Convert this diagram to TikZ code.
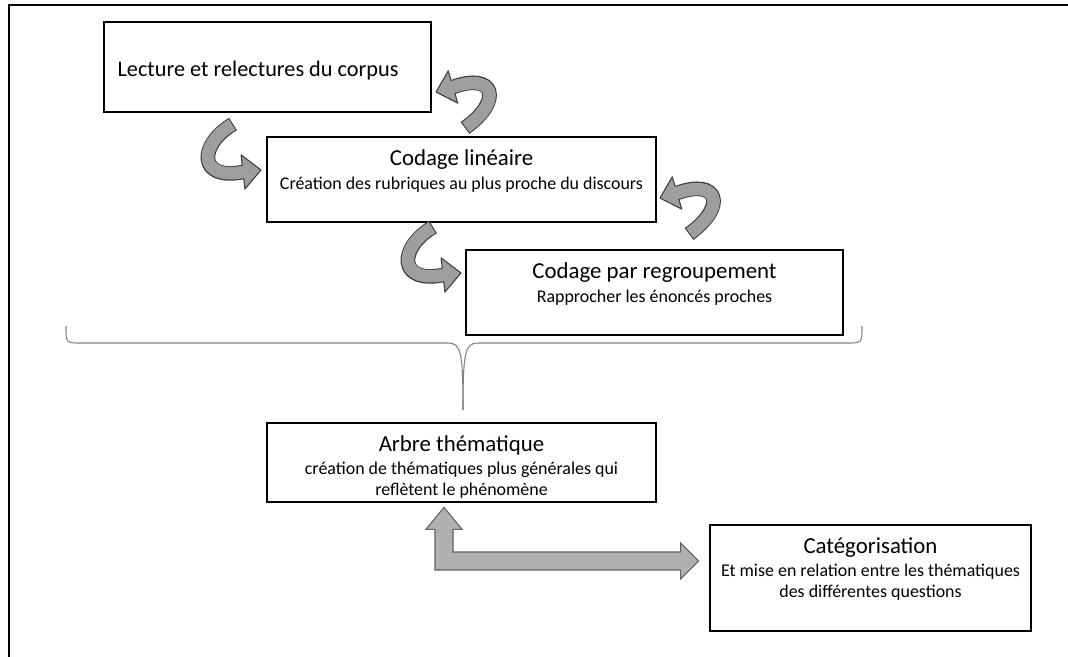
\documentclass[tikz,border=0pt]{standalone}
\usepackage{fontspec}
\setmainfont{Carlito}
\usetikzlibrary{positioning,calc}

\definecolor{ribbonfill}{RGB}{158,158,158}
\definecolor{ribbonedge}{RGB}{60,60,60}
\definecolor{arrowfill}{RGB}{176,176,176}
\definecolor{bracegray}{RGB}{130,130,130}

\newcommand{\titlefont}{\fontsize{19.5}{20}\selectfont}
\newcommand{\subfont}{\fontsize{15.3}{18.3}\selectfont}

% grey u-turn arrow: start, two controls, end of band, tip
\newcommand{\cyclearrow}[5]{%
  \draw[line width=12.5pt, ribbonedge] (#1) .. controls (#2) and (#3) .. (#4);
  \filldraw[fill=ribbonfill, draw=ribbonedge, line width=0.9pt, line join=round]
    (#5) -- ($(#4)!0.95!90:(#5)$) -- ($(#4)!0.95!-90:(#5)$) -- cycle;
  \draw[line width=10.7pt, ribbonfill, shorten <=0.9pt, shorten >=-1.2pt]
    (#1) .. controls (#2) and (#3) .. (#4);
}

\begin{document}
\begin{tikzpicture}[x=0.03cm, y=-0.03cm]
\tikzstyle{box}=[draw, line width=2.2pt, inner sep=0pt]
\tikzstyle{txt}=[align=center, inner sep=0pt, font=\subfont]
\tikzstyle{bigarrow}=[fill=arrowfill, draw=ribbonedge!80, line width=0.9pt]
\useasboundingbox (0,0) rectangle (1068,657);
\draw[line width=2pt] (9,657) -- (9,5) -- (1068,5);

% the steps
\node[box, minimum width=9.81cm, minimum height=2.7cm] (lecture) at (267.5,67) {};
\node[txt, font=\fontsize{19}{20}\selectfont] (lecturetxt) at (258,71) {Lecture et relectures du corpus};
\node[box, minimum width=11.67cm, minimum height=2.55cm] (lineaire) at (461.5,179.5) {};
\node[txt, below=0.42cm of lineaire.north] (lineairetxt) {{\titlefont Codage linéaire}\\[1.5pt] Création des rubriques au plus proche du discours};
\node[box, minimum width=11.31cm, minimum height=2.55cm] (regroup) at (654.5,292.5) {};
\node[txt, below=0.42cm of regroup.north] (regrouptxt) {{\titlefont Codage par regroupement}\\[1.5pt] Rapprocher les énoncés proches};
\node[box, minimum width=11.67cm, minimum height=2.37cm] (arbre) at (461.5,462.5) {};
\node[txt, below=0.4cm of arbre.north] (arbretxt) {{\titlefont Arbre thématique}\\[1.5pt] création de thématiques plus générales qui\\ reflètent le phénomène};
\node[box, minimum width=9.63cm, minimum height=3.18cm] (categ) at (870.5,578) {};
\node[txt, below=0.4cm of categ.north] (categtxt) {{\titlefont Catégorisation}\\[1.5pt] Et mise en relation entre les thématiques\\ des différentes questions};

% back and forth
\cyclearrow{465,128}{504,100}{494,72}{453,87}{436,92}
\cyclearrow{233,124}{198,145}{198,181}{243,172}{261,170}
\cyclearrow{689,234}{728,206}{718,178}{677,193}{660,198}
\cyclearrow{433,227}{398,248}{398,284}{443,275}{461,273}

% brace
\draw[bracegray, line width=0.9pt] (66,326) .. controls (66,343) .. (80,343) -- (448,343) .. controls (461,343) and (463,352) .. (463,410);
\draw[bracegray, line width=0.9pt] (463,410) .. controls (463,352) and (465,343) .. (478,343) -- (848,343) .. controls (862,343) .. (862,326);

% double arrow
\coordinate (uptip) at ($(arbre.south)+(-17.5,4)$);
\coordinate (righttip) at ($(categ.west)+(-10,-17)$);
\filldraw[bigarrow] (uptip) -- ++(18,22) -- ++(-9,0) |- ($(righttip)+(-18,-9)$) -- ++(0,-9) -- (righttip) -- ++(-18,18) -- ++(0,-9) -| ($(uptip)+(-9,22)$) -- ++(-9,0) -- cycle;
\end{tikzpicture}
\end{document}
